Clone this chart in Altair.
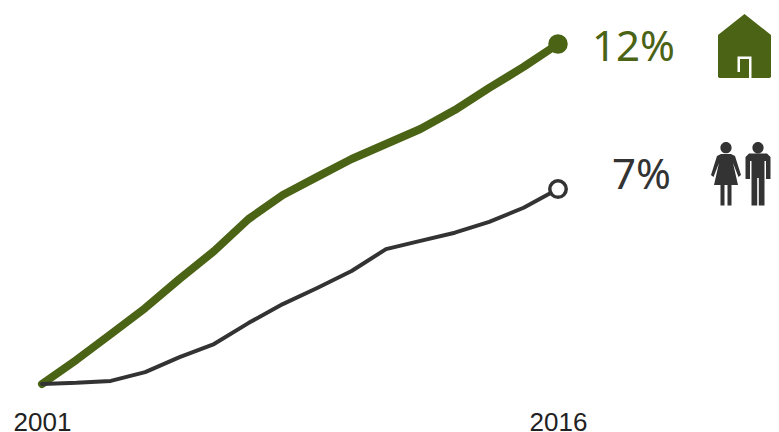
import altair as alt
import pandas as pd

years = list(range(2001, 2017))
households = [0, 0.85, 1.76, 2.68, 3.71, 4.69, 5.82, 6.67, 7.31, 7.94, 8.47, 9.0, 9.67, 10.45, 11.19, 12.0]
population = [0, 0.04, 0.11, 0.42, 0.95, 1.41, 2.15, 2.82, 3.39, 3.99, 4.76, 5.05, 5.34, 5.72, 6.22, 6.88]
end_year = 2016
tick_years = [2001, 2016]
labels = ["12%", "7%"]

GREEN = "#4b6314"
DARK = "#333333"
FONT = "Noto Sans"


def poly(points, s):
    body = " L".join(f"{x / s:.4f} {y / s:.4f}" for x, y in points)
    return f"M{body} Z"


def head(cy, r, s):
    return (f"M{-r / s:.4f} {cy / s:.4f} A{r / s:.4f} {r / s:.4f} 0 1 1 {r / s:.4f} {cy / s:.4f} "
            f"A{r / s:.4f} {r / s:.4f} 0 1 1 {-r / s:.4f} {cy / s:.4f} Z")


H = 32
house_path = poly([(0, -32), (26.5, -11), (26.5, 31), (25, 32), (-25, 32), (-26.5, 31), (-26.5, -11)], H)
door_path = poly([(-7, 26), (-7, 10.5), (7, 10.5), (7, 32), (4.5, 32), (4.5, 13), (-4.5, 13), (-4.5, 26)], H)

P = 32
woman_path = head(-26.3, 5.6, P) + " " + poly([
    (-5, -20), (5, -20), (9, -18), (15, 1), (12.5, 3), (7, -11), (12, 11), (5.5, 11), (5.5, 31.5),
    (1.5, 31.5), (1.5, 11), (-1.5, 11), (-1.5, 31.5), (-5.5, 31.5), (-5.5, 11), (-12, 11),
    (-7, -11), (-12.5, 3), (-15, 1), (-9, -18)], P)
man_path = head(-26.3, 5.6, P) + " " + poly([
    (-9, -20.5), (9, -20.5), (12.5, -17), (12.5, 5), (8, 5), (8, -13), (6.5, -13), (6.5, 31.5),
    (0.8, 31.5), (0.8, 4), (-0.8, 4), (-0.8, 31.5), (-6.5, 31.5), (-6.5, -13), (-8, -13), (-8, 5),
    (-12.5, 5), (-12.5, -17)], P)

df = pd.DataFrame({"year": years, "households": households, "population": population})
last = df[df.year == end_year].assign(a=labels[0], b=labels[1])

x = alt.X("year:Q", scale=alt.Scale(domain=[2001, 2016], range=[34, 550]),
          axis=alt.Axis(values=tick_years, format="d", title=None, grid=False, domain=False, ticks=False,
                        labelFont="Liberation Sans", labelFontSize=26, labelColor="#222222",
                        labelPadding=38, labelFlush=False, labelBaseline="middle"))
yscale = alt.Scale(domain=[0, 12], range=[376, 36])


def y(field):
    return alt.Y(f"{field}:Q", scale=yscale, axis=None)


base = alt.Chart(df)
last_base = alt.Chart(last)
icons = alt.Chart(pd.DataFrame({"i": [0]}))


def icon(path, color, cx, cy, size):
    return icons.mark_point(shape=path, filled=True, color=color, opacity=1, size=size, strokeWidth=0).encode(
        x=alt.value(cx - 8), y=alt.value(cy - 8))


chart = alt.layer(
    base.mark_line(color=GREEN, strokeWidth=8, strokeCap="round", strokeJoin="round").encode(x=x, y=y("households")),
    base.mark_line(color=DARK, strokeWidth=4, strokeCap="round", strokeJoin="round").encode(x=x, y=y("population")),
    last_base.mark_point(filled=True, color=GREEN, opacity=1, size=380).encode(x=x, y=y("households")),
    last_base.mark_point(filled=True, fill="white", stroke=DARK, opacity=1, strokeWidth=3.5, size=270).encode(x=x, y=y("population")),
    last_base.mark_text(color=GREEN, font=FONT, fontSize=42, align="right", baseline="middle", dx=117, dy=4).encode(x=x, y=y("households"), text="a:N"),
    last_base.mark_text(color=DARK, font=FONT, fontSize=42, align="right", baseline="middle", dx=113, dy=-13).encode(x=x, y=y("population"), text="b:N"),
    icon(house_path, GREEN, 744.5, 46, 4096),
    icon(door_path, "white", 744.5, 46, 4096),
    icon(woman_path, DARK, 726, 174, 4096),
    icon(man_path, DARK, 758, 174, 4096),
).properties(
    width=763, height=376,
    padding={"left": 0, "top": 0, "right": 0, "bottom": 48},
    autosize=alt.AutoSizeParams(type="none"),
).configure_view(stroke=None)

chart.save("out.html", embed_options={"renderer": "svg", "actions": False})
